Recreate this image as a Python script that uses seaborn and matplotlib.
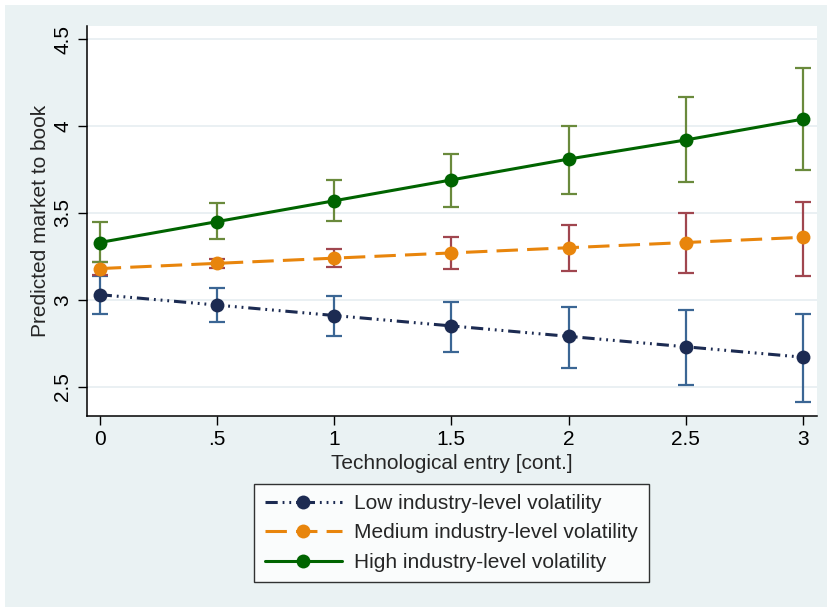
import pandas as pd
import matplotlib.pyplot as plt
import seaborn as sns
from matplotlib.lines import Line2D
from matplotlib.patches import Rectangle

# valores (margens previstas e IC 95%)
entrada = [0, 0.5, 1, 1.5, 2, 2.5, 3]
rotulos_x = ["0", ".5", "1", "1.5", "2", "2.5", "3"]
grupos = ["Low industry-level volatility",
          "Medium industry-level volatility",
          "High industry-level volatility"]

baixa = [3.03, 2.97, 2.91, 2.85, 2.79, 2.73, 2.67]
baixa_inf = [2.92, 2.87, 2.79, 2.70, 2.61, 2.51, 2.41]
baixa_sup = [3.14, 3.07, 3.02, 2.99, 2.96, 2.94, 2.92]

media = [3.18, 3.21, 3.24, 3.27, 3.30, 3.33, 3.36]
media_inf = [3.145, 3.185, 3.19, 3.18, 3.165, 3.155, 3.14]
media_sup = [3.22, 3.235, 3.29, 3.36, 3.43, 3.50, 3.565]

alta = [3.33, 3.45, 3.57, 3.69, 3.81, 3.92, 4.04]
alta_inf = [3.22, 3.35, 3.455, 3.535, 3.61, 3.68, 3.745]
alta_sup = [3.45, 3.555, 3.69, 3.84, 4.00, 4.165, 4.335]

cores = {grupos[0]: "#1c2b52", grupos[1]: "#e8850c", grupos[2]: "#006400"}
cores_ic = {grupos[0]: "#3b6694", grupos[1]: "#a0464f", grupos[2]: "#6a8a3c"}
tracos = {grupos[0]: (4, 1.6, 0.6, 1.6, 0.6, 1.6, 0.6, 1.6),
          grupos[1]: (7, 3),
          grupos[2]: ""}

dados = pd.DataFrame({
    "x": entrada * 3,
    "y": baixa + media + alta,
    "inf": baixa_inf + media_inf + alta_inf,
    "sup": baixa_sup + media_sup + alta_sup,
    "grupo": [grupos[0]] * 7 + [grupos[1]] * 7 + [grupos[2]] * 7,
})

sns.set_style("white")
plt.rcParams['font.family'] = ['Liberation Sans', 'DejaVu Sans']

fig = plt.figure(figsize=(8.27, 6.07), dpi=100, facecolor="white")
# fundo cinza-azulado com pequena margem branca em cima e a esquerda
fig.patches.append(Rectangle((5 / 827, 0), 1, 1 - 5 / 607, transform=fig.transFigure,
                             facecolor="#eaf2f3", edgecolor="none", zorder=-10))
ax = fig.add_axes([0.105, 0.315, 0.883, 0.642])
ax.set_facecolor("white")

# barras de IC primeiro
for g in grupos:
    d = dados[dados["grupo"] == g]
    ax.errorbar(d["x"], d["y"], yerr=[d["y"] - d["inf"], d["sup"] - d["y"]],
                fmt="none", ecolor=cores_ic[g], elinewidth=1.6, capsize=6,
                capthick=1.6, zorder=2)

sns.lineplot(data=dados, x="x", y="y", hue="grupo", style="grupo",
             palette=cores, dashes=tracos, markers={g: "o" for g in grupos},
             markersize=10, markeredgewidth=0, linewidth=2.2, ax=ax,
             legend=False, zorder=3)

ax.set_xlim(-0.055, 3.06)
ax.set_ylim(2.333, 4.575)
ax.set_xticks(entrada)
ax.set_xticklabels(rotulos_x, fontsize=15)
ax.set_yticks([2.5, 3, 3.5, 4, 4.5])
ax.set_yticklabels(["2.5", "3", "3.5", "4", "4.5"], fontsize=15,
                   rotation=90, va="center")
ax.grid(axis="y", color="#e6eef1", linewidth=1.2)
ax.tick_params(axis="both", direction="out", length=6.5, width=1, colors="black",
               left=True, bottom=True, pad=4)
for lado in ["top", "right"]:
    ax.spines[lado].set_visible(False)
for lado in ["left", "bottom"]:
    ax.spines[lado].set_color("black")
    ax.spines[lado].set_linewidth(1.1)

ax.set_xlabel("Technological entry [cont.]", fontsize=15, labelpad=3)
ax.set_ylabel("Predicted market to book", fontsize=15, labelpad=2)

alcas = [Line2D([0], [0], color=cores[g], linestyle=(0, tracos[g]) if tracos[g] else "-",
                linewidth=2.2, marker="o", markersize=10, markeredgewidth=0)
         for g in grupos]
leg = fig.legend(alcas, grupos, loc="center", bbox_to_anchor=(0.546, 0.122),
                 fontsize=15, frameon=True, fancybox=False, edgecolor="black",
                 handlelength=3.7, borderpad=0.5, labelspacing=0.5,
                 handletextpad=0.6, borderaxespad=0)
leg.get_frame().set_linewidth(1)
leg.get_frame().set_facecolor("white")

plt.savefig("out.png", dpi=100, facecolor=fig.get_facecolor())
plt.close()
